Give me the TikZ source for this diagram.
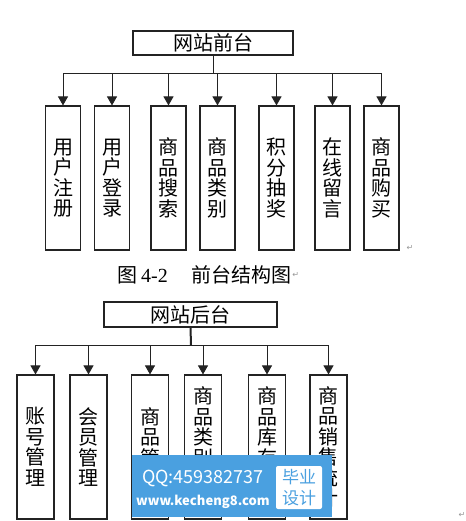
\documentclass[tikz,border=0pt]{standalone}
\usepackage{fontspec}
\setmainfont{Liberation Serif}
\newfontfamily\cjk{Noto Sans CJK SC}
\newfontfamily\dv{DejaVu Sans}
\usetikzlibrary{arrows.meta}
\definecolor{wmblue}{RGB}{74,160,224}
\definecolor{linec}{RGB}{35,35,35}
\definecolor{markc}{RGB}{150,150,150}
\begin{document}
\begin{tikzpicture}[x=1pt,y=-1pt,
  leaf/.style={draw=linec, line width=1.1pt, inner sep=0pt, align=center,
    minimum width=35pt, minimum height=144pt,
    font=\cjk\fontsize{20}{20.5}\selectfont},
  leafb/.style={leaf, minimum width=37pt},
  rootbox/.style={draw=linec, line width=1.1pt, inner sep=0pt,
    font=\cjk\fontsize{20}{22}\selectfont},
  link/.style={draw=linec, line width=0.9pt, -{Triangle[length=9pt,width=10pt]}},
  pmark/.style={text=markc, font=\dv\fontsize{8}{8}\selectfont, inner sep=0pt},
  wmtext/.style={text=white, inner sep=0pt}]
\useasboundingbox (0,0) rectangle (465,521);
% ---------- front end ----------
\node[rootbox, minimum width=160pt, minimum height=24pt] (f0) at (213,43) {网站前台};
\node[leaf] (f1) at (63,178) {用\\户\\注\\册};
\node[leaf] (f2) at (112,178) {用\\户\\登\\录};
\node[leaf] (f3) at (168.5,178) {商\\品\\搜\\索};
\node[leaf] (f4) at (217.5,178) {商\\品\\类\\别};
\node[leaf] (f5) at (276.5,178) {积\\分\\抽\\奖};
\node[leaf] (f6) at (332.5,178) {在\\线\\留\\言};
\node[leaf] (f7) at (381.5,178) {商\\品\\购\\买};
\coordinate (fbus) at (213,73);
\draw[draw=linec, line width=0.9pt] (f0.south) -- (fbus);
\foreach \i in {1,...,7} \draw[link] (fbus) -| (f\i.north);
\node[pmark] (pm1) at (410,248) {↵};
% caption
\node[anchor=west, inner sep=0pt, font=\fontsize{20}{22}\selectfont] (cap) at (117,275)
  {{\cjk 图}\hspace{4pt}4-2\hspace{24pt}{\cjk 前台结构图}};
\node[pmark, anchor=west] (pm2) at (cap.east) {↵};
% ---------- back end ----------
\node[rootbox, minimum width=173pt, minimum height=25pt] (b0) at (190.5,314.5) {网站后台};
\node[leafb] (b1) at (35.5,447) {账\\号\\管\\理};
\node[leafb] (b2) at (88.5,447) {会\\员\\管\\理};
\node[leafb] (b3) at (150,447) {商\\品\\管\\理};
\node[leafb] (b4) at (203,447) {商\\品\\类\\别\\管\\理};
\node[leafb] (b5) at (267,447) {商\\品\\库\\存\\管\\理};
\node[leafb] (b6) at (328.5,447) {商\\品\\销\\售\\统\\计};
\coordinate (bbus) at (191,345);
\draw[draw=linec, line width=2pt] (b0.south) -- (bbus);
\foreach \i in {1,...,6} \draw[link] (bbus) -| (b\i.north);
\node[pmark] (pm3) at (462,515) {↵};
% ---------- watermark ----------
\node[fill=wmblue, inner sep=0pt, minimum width=200pt, minimum height=62pt, anchor=north west] (wm) at (132,455) {};
\node[wmtext, font=\cjk\fontsize{18}{18}\selectfont] (wq) at (203,478) {QQ:459382737};
\node[wmtext, font=\cjk\bfseries\fontsize{13}{13}\selectfont] (ww) at (203,502) {www.kecheng8.com};
\node[fill=white, rounded corners=2pt, minimum width=46pt, minimum height=43pt, inner sep=0pt] (wb) at (299,487.5) {};
\node[text=wmblue, inner sep=0pt, align=center, font=\cjk\fontsize{17}{21}\selectfont] (wbt) at (wb.center) {毕业\\设计};
\end{tikzpicture}
\end{document}
